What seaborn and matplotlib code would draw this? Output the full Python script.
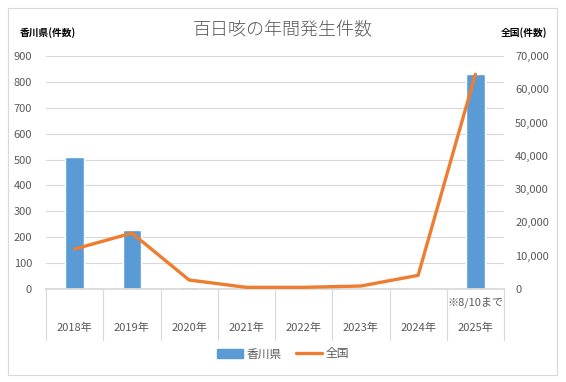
import matplotlib
matplotlib.use("Agg")
import matplotlib.pyplot as plt
import matplotlib.transforms as mtransforms
from matplotlib.patches import Rectangle
from matplotlib.lines import Line2D
from matplotlib.ticker import FuncFormatter
import seaborn as sns
import numpy as np
import pandas as pd

years = ["2018年", "2019年", "2020年", "2021年", "2022年", "2023年", "2024年", "2025年"]
notes = ["", "", "", "", "", "", "", "※8/10まで"]
kagawa = [510, 228, 8, 2, 1, 4, 4, 830]
national = [12000, 16800, 2700, 500, 500, 900, 4100, 64500]

sns.set_theme(style="white")
plt.rcParams["font.family"] = ["Noto Sans CJK JP", "DejaVu Sans"]

grey = "#595959"
grid_c = "#D9D9D9"

df = pd.DataFrame({"year": years, "kagawa": kagawa, "national": national})

fig = plt.figure(figsize=(5.66, 3.82), dpi=100)
ax = fig.add_axes([46 / 566, 1 - 289 / 382, 458 / 566, 233 / 382])

sns.barplot(data=df, x="year", y="kagawa", color="#5B9BD5", width=0.32,
            saturation=1, ax=ax, zorder=2)
ax.set_ylim(0, 900)
ax.set_yticks(range(0, 901, 100))
ax.set_xlim(-0.5, len(years) - 0.5)
ax.grid(axis="y", color=grid_c, linewidth=0.8, zorder=0)
ax.set_axisbelow(True)
ax.set_xlabel("")
ax.set_ylabel("")
ax.set_xticks([])
for s in ["top", "right", "left"]:
    ax.spines[s].set_visible(False)
ax.spines["bottom"].set_color(grid_c)
ax.tick_params(axis="y", length=0, labelsize=8, labelcolor=grey, pad=10)

ax2 = ax.twinx()
sns.lineplot(x=np.arange(len(years)), y=national, color="#ED7D31",
             linewidth=2.4, ax=ax2, zorder=3)
ax2.set_ylim(0, 70000)
ax2.set_yticks(range(0, 70001, 10000))
ax2.yaxis.set_major_formatter(FuncFormatter(lambda v, p: f"{int(v):,}"))
for s in ax2.spines.values():
    s.set_visible(False)
ax2.tick_params(axis="y", length=0, labelsize=8, labelcolor=grey, pad=8)

# two-level category axis
trans = mtransforms.blended_transform_factory(ax.transData, fig.transFigure)
y_top = 1 - 289 / 382
y_bot = 1 - 340 / 382
for i in range(len(years) + 1):
    ax.add_line(Line2D([i - 0.5, i - 0.5], [y_top, y_bot], transform=trans,
                       color=grid_c, linewidth=0.8, clip_on=False))
for i, (yr, nt) in enumerate(zip(years, notes)):
    ax.text(i, 1 - 328 / 382, yr, transform=trans, ha="center", va="center",
            fontsize=8, color=grey)
    if nt:
        ax.text(i, 1 - 302 / 382, nt, transform=trans, ha="center", va="center",
                fontsize=8, color=grey)

fig.text(0.5, 1 - 30 / 382, "百日咳の年間発生件数", ha="center", va="center",
         fontsize=13, color=grey, fontweight="light")
fig.text(20 / 566, 1 - 33 / 382, "香川県(件数)", ha="left", va="center",
         fontsize=7, color="black", fontweight="bold")
fig.text(547 / 566, 1 - 33 / 382, "全国(件数)", ha="right", va="center",
         fontsize=7, color="black", fontweight="bold")

handles = [Rectangle((0, 0), 1, 1, color="#5B9BD5"),
           Line2D([0], [0], color="#ED7D31", linewidth=2.4)]
fig.legend(handles, ["香川県", "全国"], loc="center", ncol=2,
           bbox_to_anchor=(0.5, 1 - 354 / 382), frameon=False, fontsize=8.5,
           labelcolor=grey, handlelength=2.2, handleheight=0.7, columnspacing=1.2,
           handletextpad=0.3)

fig.patches.append(Rectangle((8 / 566, 1 - 375 / 382), 549 / 566, 367 / 382,
                             transform=fig.transFigure, fill=False,
                             edgecolor=grid_c, linewidth=0.8))

fig.savefig("out.png", dpi=100)
